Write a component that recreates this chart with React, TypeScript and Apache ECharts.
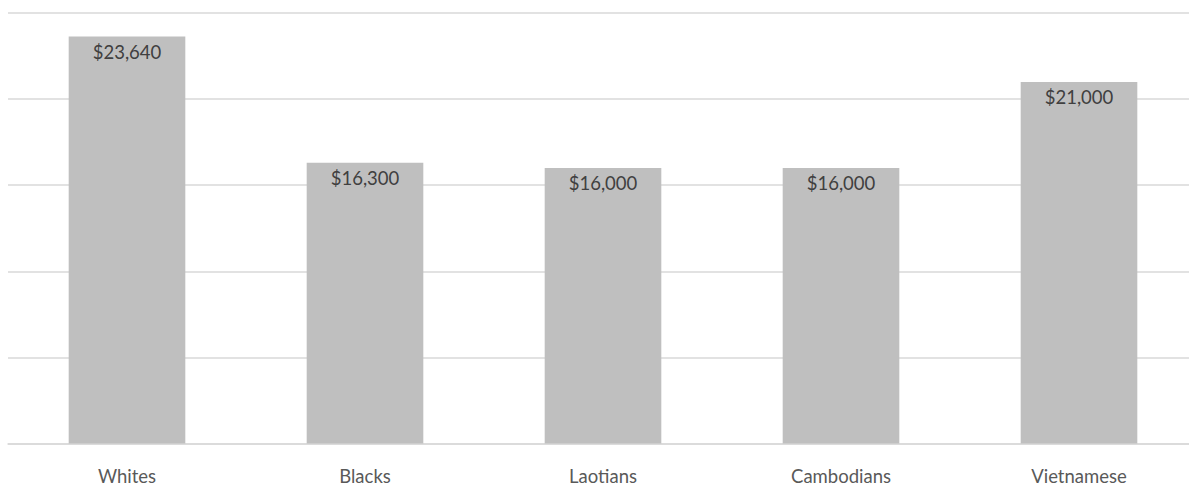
import React, { useEffect, useRef } from "react";
import * as echarts from "echarts";

const categories = ["Whites", "Blacks", "Laotians", "Cambodians", "Vietnamese"];
const incomes = [23640, 16300, 16000, 16000, 21000];
const yMax = 25000;
const yStep = 5000;

export default function App() {
  const ref = useRef<HTMLDivElement>(null);

  useEffect(() => {
    if (!ref.current) return;
    const chart = echarts.init(ref.current, undefined, { renderer: "svg" });
    chart.setOption({
      animation: false,
      grid: {
        left: 8,
        right: -9,
        top: 13,
        bottom: 43.5,
        containLabel: false,
        outerBoundsMode: "none",
      },
      xAxis: {
        type: "category",
        data: categories,
        axisLine: { lineStyle: { color: "#d9d9d9", width: 1.5 } },
        axisTick: { show: false },
        axisLabel: {
          color: "#595959",
          fontSize: 18.5,
          fontFamily: "Lato",
          margin: 23,
        },
      },
      yAxis: {
        type: "value",
        min: 0,
        max: yMax,
        interval: yStep,
        axisLabel: { show: false },
        axisLine: { show: false },
        axisTick: { show: false },
        splitLine: { lineStyle: { color: "#d9d9d9", width: 1.5 } },
      },
      series: [
        {
          type: "bar",
          data: incomes,
          barWidth: "49%",
          itemStyle: { color: "#bfbfbf" },
          label: {
            show: true,
            position: "insideTop",
            distance: 6,
            color: "#404040",
            fontSize: 18.5,
            fontFamily: "Lato",
            formatter: (p: any) => "$" + Number(p.value).toLocaleString("en-US"),
          },
        },
      ],
    });
    return () => chart.dispose();
  }, []);

  return (
    <div
      ref={ref}
      style={{ position: "absolute", left: 0, top: 0, width: 1189, height: 487, background: "#fff", overflow: "hidden" }}
    />
  );
}
